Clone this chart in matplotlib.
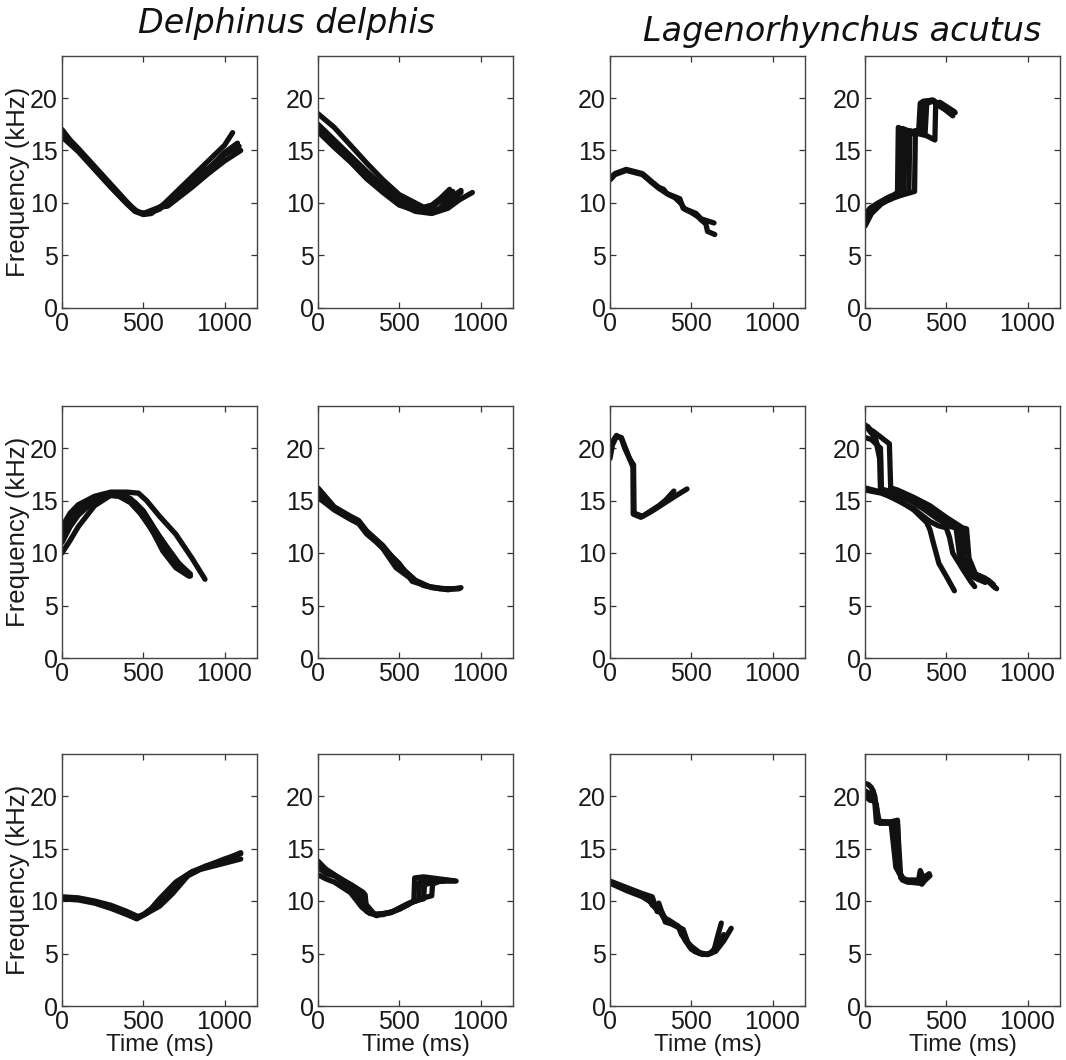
import matplotlib
matplotlib.use("Agg")
import matplotlib.pyplot as plt

# ---------------- data: whistle contours (time ms, frequency kHz) ----------------
# Delphinus delphis, row 1, col 1
dd_r1c1 = [
    ([0, 50, 100, 200, 300, 400, 450, 500, 550, 600, 700, 800, 900, 1000, 1050],
     [17.0, 16.0, 15.2, 13.5, 11.8, 10.1, 9.3, 9.0, 9.1, 9.5, 11.0, 12.5, 14.0, 15.5, 16.7]),
    ([0, 50, 100, 200, 300, 400, 450, 500, 550, 600, 700, 800, 900, 1000, 1080],
     [16.5, 15.8, 15.0, 13.3, 11.6, 10.0, 9.2, 8.9, 9.0, 9.6, 10.6, 11.8, 13.2, 14.8, 15.7]),
    ([0, 50, 100, 200, 300, 400, 450, 500, 550, 600, 650, 700, 800, 900, 1000, 1100],
     [16.3, 15.6, 14.9, 13.2, 11.5, 9.9, 9.2, 9.0, 9.3, 9.6, 9.7, 10.3, 11.5, 12.8, 14.0, 15.0]),
    ([0, 100, 200, 300, 400, 470, 520, 600, 700, 800, 900, 1000, 1090],
     [16.8, 15.1, 13.4, 11.7, 10.0, 9.1, 9.0, 9.4, 10.8, 12.3, 13.3, 14.6, 15.4]),
]
# Delphinus delphis, row 1, col 2
dd_r1c2 = [
    ([0, 100, 200, 300, 400, 500, 600, 650, 700, 750, 810],
     [18.5, 17.2, 15.5, 13.8, 12.2, 10.8, 10.0, 9.6, 9.8, 10.4, 11.3]),
    ([0, 100, 200, 300, 400, 500, 600, 700, 750, 800, 880],
     [17.3, 15.8, 14.3, 12.8, 11.3, 10.1, 9.4, 9.2, 9.5, 10.3, 11.2]),
    ([0, 100, 200, 300, 400, 500, 600, 700, 800, 870, 950],
     [17.0, 15.5, 14.0, 12.5, 11.1, 9.9, 9.2, 9.0, 9.5, 10.3, 11.0]),
    ([0, 100, 200, 300, 400, 500, 600, 700, 760, 820, 880],
     [16.8, 15.3, 13.9, 12.3, 11.0, 9.8, 9.3, 9.1, 9.4, 10.2, 11.0]),
    ([0, 100, 200, 300, 400, 500, 600, 650, 700, 760, 830],
     [17.5, 16.0, 14.5, 13.0, 11.6, 10.3, 9.6, 9.4, 9.6, 10.3, 11.1]),
]
# Lagenorhynchus acutus, row 1, col 1
la_r1c1 = [
    ([0, 30, 100, 200, 260, 300, 330, 350, 400, 430, 450, 500, 530, 560, 600, 640],
     [12.3, 12.8, 13.2, 12.8, 12.0, 11.5, 11.3, 10.9, 10.6, 10.4, 9.5, 9.2, 9.0, 8.5, 8.3, 8.1]),
    ([0, 30, 100, 200, 260, 300, 340, 360, 400, 440, 460, 500, 540, 560, 590, 600, 645],
     [12.2, 12.7, 13.1, 12.7, 11.9, 11.4, 11.0, 10.8, 10.5, 9.9, 9.4, 9.1, 8.7, 8.4, 8.0, 7.3, 7.0]),
]
# Lagenorhynchus acutus, row 1, col 2
la_r1c2 = [
    ([0, 30, 80, 150, 200, 205, 230, 300, 330, 340, 360, 420, 460, 500, 540],
     [8.5, 9.3, 9.8, 10.5, 11.0, 17.2, 17.0, 16.8, 16.8, 19.5, 19.7, 19.8, 19.3, 18.8, 18.3]),
    ([0, 30, 80, 150, 210, 240, 245, 290, 340, 350, 370, 420, 470, 520, 555],
     [8.8, 9.5, 10.0, 10.6, 10.9, 11.0, 16.8, 16.7, 16.6, 19.3, 19.6, 19.7, 19.2, 18.8, 18.6]),
    ([0, 40, 100, 180, 270, 275, 330, 380, 430, 435, 460, 500, 550],
     [8.0, 9.2, 10.0, 10.5, 11.0, 16.6, 16.6, 16.4, 16.0, 19.4, 19.6, 19.2, 18.7]),
    ([0, 40, 100, 180, 260, 305, 310, 350, 370, 380, 420, 470, 530],
     [7.8, 9.0, 9.9, 10.6, 10.9, 11.1, 16.9, 16.8, 16.7, 19.5, 19.7, 19.4, 18.8]),
    ([0, 50, 120, 190, 230, 232, 260, 330, 360, 365, 410, 460, 540],
     [9.0, 9.6, 10.2, 10.8, 11.0, 17.1, 16.9, 16.7, 16.6, 19.3, 19.8, 19.2, 18.5]),
]
# Delphinus delphis, row 2, col 1
dd_r2c1 = [
    ([0, 50, 100, 200, 300, 400, 470, 520, 600, 700, 800, 880],
     [12.5, 13.8, 14.6, 15.4, 15.8, 15.8, 15.7, 15.0, 13.5, 11.8, 9.5, 7.5]),
    ([0, 50, 100, 200, 300, 400, 450, 500, 550, 600, 700, 790],
     [11.0, 12.5, 13.6, 15.0, 15.6, 15.3, 14.8, 14.0, 12.8, 11.5, 9.3, 7.8]),
    ([0, 50, 100, 200, 300, 380, 450, 500, 560, 620, 700, 780],
     [10.0, 11.2, 12.5, 14.5, 15.5, 15.4, 14.6, 13.5, 12.0, 10.2, 8.6, 7.8]),
    ([0, 60, 120, 200, 280, 350, 420, 480, 540, 600, 700, 780],
     [11.5, 13.0, 14.0, 15.0, 15.5, 15.4, 14.8, 13.8, 12.5, 11.0, 9.2, 7.9]),
    ([0, 50, 100, 180, 260, 350, 420, 500, 560, 640, 720, 790],
     [12.3, 13.5, 14.3, 15.1, 15.6, 15.7, 15.2, 14.0, 12.5, 10.7, 9.0, 8.0]),
]
# Delphinus delphis, row 2, col 2
dd_r2c2 = [
    ([0, 100, 200, 250, 300, 400, 500, 600, 700, 800, 880],
     [16.2, 14.4, 13.5, 13.1, 12.1, 10.7, 8.8, 7.4, 6.7, 6.5, 6.7]),
    ([0, 100, 200, 250, 300, 400, 480, 550, 650, 750, 870],
     [15.6, 14.2, 13.3, 12.9, 12.0, 10.4, 8.6, 7.8, 6.9, 6.6, 6.6]),
    ([0, 100, 200, 250, 300, 400, 500, 580, 680, 780, 860],
     [15.3, 14.1, 13.2, 12.8, 11.8, 10.5, 9.0, 7.3, 6.8, 6.6, 6.6]),
]
# Lagenorhynchus acutus, row 2, col 1
la_r2c1 = [
    ([0, 15, 40, 70, 90, 120, 141, 143, 190, 250, 300, 350, 400, 474],
     [19.0, 20.3, 21.1, 21.0, 20.2, 19.0, 18.2, 13.7, 13.4, 13.9, 14.4, 14.9, 15.4, 16.1]),
    ([0, 15, 40, 70, 90, 120, 145, 148, 200, 250, 300, 340, 393],
     [19.6, 20.6, 21.2, 20.9, 20.0, 19.0, 18.4, 13.8, 13.5, 14.0, 14.5, 15.0, 15.9]),
]
# Lagenorhynchus acutus, row 2, col 2
la_r2c2 = [
    ([0, 20, 60, 95, 100, 200, 300, 400, 500, 560, 580, 600, 650, 700, 750, 800],
     [22.0, 21.8, 21.0, 19.5, 16.0, 15.5, 14.9, 14.0, 13.0, 12.5, 12.4, 9.8, 8.2, 7.8, 7.4, 6.7]),
    ([0, 50, 100, 150, 158, 200, 300, 400, 500, 600, 625, 640, 680, 740, 810],
     [22.0, 21.6, 21.0, 20.4, 16.2, 16.0, 15.3, 14.5, 13.4, 12.4, 12.3, 9.5, 8.0, 7.6, 6.6]),
    ([0, 40, 80, 95, 100, 200, 300, 400, 480, 530, 600, 610, 650, 700, 760, 790],
     [21.0, 20.8, 20.2, 20.0, 16.0, 15.6, 14.8, 13.9, 13.0, 12.5, 12.3, 9.3, 8.0, 7.8, 7.4, 7.0]),
    ([0, 100, 200, 300, 400, 450, 500, 520, 540, 600, 650, 675],
     [16.2, 15.8, 15.0, 14.2, 13.0, 12.6, 12.4, 11.5, 10.0, 8.5, 7.3, 6.8]),
    ([0, 100, 200, 300, 380, 400, 420, 455, 500, 550],
     [16.0, 15.7, 15.1, 14.1, 12.9, 12.2, 11.0, 9.0, 7.8, 6.4]),
    ([0, 20, 60, 90, 95, 150, 250, 350, 450, 520, 560, 580, 620, 680, 740],
     [22.2, 22.0, 21.2, 19.0, 16.1, 15.9, 15.2, 14.3, 13.2, 12.6, 12.4, 10.0, 8.2, 7.6, 7.2]),
]
# Delphinus delphis, row 3, col 1
dd_r3c1 = [
    ([0, 100, 200, 300, 400, 450, 500, 550, 600, 700, 800, 900, 1000, 1100],
     [10.3, 10.2, 9.9, 9.5, 8.9, 8.4, 8.7, 9.3, 10.2, 11.8, 12.8, 13.4, 14.0, 14.5]),
    ([0, 100, 200, 300, 400, 460, 520, 580, 650, 750, 850, 950, 1050, 1100],
     [10.2, 10.1, 9.8, 9.3, 8.7, 8.3, 8.8, 9.6, 10.8, 12.2, 13.0, 13.4, 13.8, 14.0]),
    ([0, 100, 200, 300, 400, 470, 530, 600, 680, 780, 880, 980, 1100],
     [10.4, 10.3, 10.0, 9.6, 9.0, 8.5, 8.9, 9.5, 10.7, 12.5, 13.3, 13.8, 14.6]),
]
# Delphinus delphis, row 3, col 2
dd_r3c2 = [
    ([0, 50, 100, 200, 290, 300, 350, 450, 550, 590, 595, 650, 750, 850],
     [13.8, 13.0, 12.5, 11.5, 10.6, 9.0, 8.7, 8.9, 9.6, 10.0, 12.2, 12.3, 12.1, 11.9]),
    ([0, 50, 100, 200, 270, 320, 400, 500, 580, 620, 625, 680, 760, 840],
     [12.5, 12.1, 11.8, 10.8, 9.4, 8.8, 8.7, 9.2, 9.9, 10.1, 11.8, 12.0, 12.0, 11.9]),
    ([0, 50, 100, 200, 300, 350, 450, 550, 620, 650, 655, 700, 780],
     [13.2, 12.6, 12.4, 11.3, 9.6, 8.7, 8.9, 9.7, 10.1, 10.2, 11.5, 11.8, 11.9]),
    ([0, 60, 120, 210, 280, 290, 360, 460, 560, 650, 700, 705, 750, 820],
     [13.5, 12.9, 12.3, 11.5, 10.8, 9.2, 8.6, 9.0, 9.8, 10.3, 10.5, 11.6, 11.9, 11.9]),
]
# Lagenorhynchus acutus, row 3, col 1
la_r3c1 = [
    ([0, 100, 200, 240, 260, 300, 330, 360, 420, 440, 470, 500, 550, 600, 640, 660, 685],
     [11.8, 11.2, 10.6, 10.2, 9.6, 9.2, 8.4, 8.2, 7.6, 6.8, 6.2, 5.7, 5.1, 4.9, 5.3, 6.5, 7.9]),
    ([0, 100, 200, 250, 280, 300, 340, 380, 430, 460, 500, 550, 600, 650, 700, 746],
     [11.7, 11.0, 10.4, 9.9, 9.3, 9.8, 8.0, 7.8, 7.4, 6.3, 5.4, 5.0, 4.9, 5.2, 6.2, 7.4]),
    ([0, 100, 200, 260, 290, 320, 350, 400, 450, 480, 520, 570, 620, 660, 700],
     [11.9, 11.3, 10.7, 10.4, 9.0, 8.9, 8.1, 7.7, 7.3, 6.0, 5.2, 4.9, 5.0, 5.8, 6.8]),
]
# Lagenorhynchus acutus, row 3, col 2
la_r3c2 = [
    ([0, 20, 40, 60, 80, 150, 160, 190, 230, 260, 300, 330, 340, 360, 390],
     [21.2, 21.1, 20.8, 20.0, 17.6, 17.5, 17.5, 13.2, 12.2, 12.0, 12.0, 12.0, 12.9, 12.2, 12.5]),
    ([0, 30, 60, 70, 140, 180, 200, 230, 260, 300, 340, 370, 395],
     [20.0, 19.6, 19.5, 17.5, 17.5, 17.5, 13.0, 12.0, 11.8, 11.8, 11.8, 12.3, 12.6]),
    ([0, 40, 70, 80, 150, 200, 210, 240, 280, 320, 350, 380],
     [20.3, 19.8, 19.2, 17.6, 17.5, 17.7, 12.8, 12.0, 11.9, 11.9, 11.6, 12.2]),
    ([0, 30, 50, 90, 160, 200, 220, 240, 270, 330, 370, 400],
     [20.5, 20.2, 20.5, 17.4, 17.4, 17.3, 12.2, 12.0, 11.8, 11.7, 12.0, 12.4]),
]

panels = [
    [dd_r1c1, dd_r1c2, la_r1c1, la_r1c2],
    [dd_r2c1, dd_r2c2, la_r2c1, la_r2c2],
    [dd_r3c1, dd_r3c2, la_r3c1, la_r3c2],
]
species = ["Delphinus delphis", "Lagenorhynchus acutus"]
x_ticks = [0, 500, 1000]
y_ticks = [0, 5, 10, 15, 20]
x_label = "Time (ms)"
y_label = "Frequency (kHz)"

# ---------------- layout ----------------
W, H = 1066, 1060
fig = plt.figure(figsize=(W / 100, H / 100), dpi=100)
col_left = [62, 318, 610, 865]
row_top = [56, 406, 754]
aw, ah = 195, 252

for r in range(3):
    for c in range(4):
        ax = fig.add_axes([col_left[c] / W, 1 - (row_top[r] + ah) / H, aw / W, ah / H])
        for t, f in panels[r][c]:
            ax.plot(t, f, color="#111111", lw=3.8, solid_capstyle="round",
                    solid_joinstyle="round")
        ax.set_xlim(0, 1200)
        ax.set_ylim(0, 24)
        ax.set_xticks(x_ticks)
        ax.set_yticks(y_ticks)
        ax.tick_params(direction="in", top=True, right=True, length=4,
                       width=0.9, color="#333333")
        ax.tick_params(axis="x", pad=3)
        ax.tick_params(axis="y", pad=3)
        for lab in ax.get_xticklabels() + ax.get_yticklabels():
            lab.set_fontfamily("Liberation Sans")
            lab.set_fontsize(18)
            lab.set_color("#1a1a1a")
        for sp in ax.spines.values():
            sp.set_color("#444444")
            sp.set_linewidth(1.0)
        if c == 0:
            ax.set_ylabel(y_label, fontfamily="Liberation Sans", fontsize=18.5,
                          color="#1a1a1a", labelpad=0)
        if r == 2:
            ax.set_xlabel(x_label, fontfamily="Liberation Sans", fontsize=17.5,
                          color="#1a1a1a", labelpad=0)

fig.text(287 / W, 1 - 24 / H, species[0], ha="center", va="center",
         fontsize=24, style="italic", family="DejaVu Sans", color="#111111")
fig.text(842 / W, 1 - 32 / H, species[1], ha="center", va="center",
         fontsize=24, style="italic", family="DejaVu Sans", color="#111111")

fig.savefig("out.png", dpi=100, facecolor="white")
